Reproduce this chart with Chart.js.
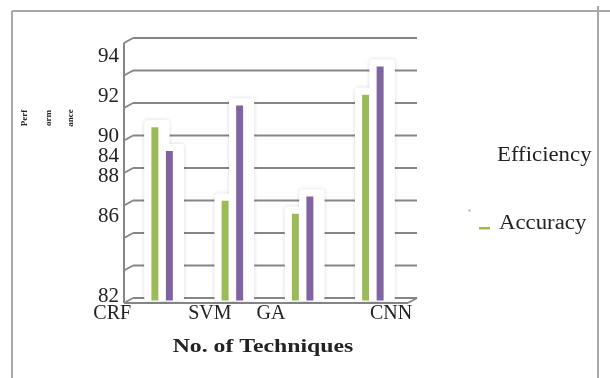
<!DOCTYPE html>
<html>
<head>
<meta charset="utf-8">
<script src="https://cdn.jsdelivr.net/npm/chart.js@4.4.0/dist/chart.umd.min.js"></script>
<style>
  html, body { margin: 0; padding: 0; background: #fff; }
  #wrap { position: relative; width: 610px; height: 378px; }
</style>
</head>
<body>
<div id="wrap"><canvas id="c"></canvas></div>
<script>
// Techniques compared and their scores
const techniques  = ['CRF', 'SVM', 'GA', 'CNN'];
const accuracy    = [90.0, 86.6, 86.0, 91.5];
const efficiency  = [88.9, 91.0, 86.8, 92.8];
const seriesNames = ['Accuracy', 'Efficiency'];

// Printed value-axis labels and the axis values they stand at
const yTickText = ['94', '92', '90', '84', '88', '86', '82'];
const yTickAt   = [94, 92, 90, 89, 88, 86, 82];
// Where each technique caption stands along the category axis
const xTickAt   = [-0.21, 1.18, 2.05, 3.76];

const GRID  = '#868686';
const TEXT  = '#222';
const SERIF = '"Liberation Serif", "Times New Roman", serif';
const GREEN  = '#9BBB59';
const PURPLE = '#8064A2';

const seg = (ctx, x1, y1, x2, y2) => {
  ctx.beginPath(); ctx.moveTo(x1, y1); ctx.lineTo(x2, y2); ctx.stroke();
};

// Back wall, side wall and floor of the 3-D box, plus the white glow round each bar
const box3d = {
  id: 'box3d',
  beforeDatasetsDraw(chart) {
    const { ctx, chartArea: a } = chart;
    const y = chart.scales.y;
    ctx.save();
    ctx.lineWidth = 2;
    ctx.strokeStyle = GRID;
    y.ticks.forEach(t => {
      const py = y.getPixelForValue(t.value);
      seg(ctx, a.left + 6, py - 2.5, a.right + 9, py - 2.5);
      seg(ctx, a.left - 3, py + 2.5, a.left + 6, py - 2.5);
    });
    seg(ctx, a.left - 3, a.top + 2.5, a.left - 3, a.bottom + 2.5);
    seg(ctx, a.left - 3, a.bottom + 2.5, a.right, a.bottom + 2.5);
    seg(ctx, a.right, a.bottom + 2.5, a.right + 9, a.bottom - 2.5);

    const bars = [];
    chart.data.datasets.forEach((d, i) =>
      chart.getDatasetMeta(i).data.forEach(b => bars.push(b)));
    const glow = b => {
      const bottom = Math.min(b.base, a.bottom);
      ctx.beginPath();
      ctx.roundRect(b.x - b.width / 2 - 7, b.y - 7, b.width + 18, bottom - b.y + 7, 3);
      ctx.fill();
    };
    ctx.fillStyle = '#fff';
    ctx.shadowColor = 'rgba(0,0,0,0.16)';
    ctx.shadowBlur = 4;
    bars.forEach(glow);
    ctx.shadowColor = 'transparent';
    bars.forEach(glow);
    ctx.restore();
  }
};

// Page frame, axis titles and the legend
const captions = {
  id: 'captions',
  afterDraw(chart) {
    const { ctx } = chart;
    ctx.save();
    ctx.strokeStyle = '#a8a8a8';
    ctx.lineWidth = 2;
    seg(ctx, 12, 11, 610, 11);
    seg(ctx, 12, 11, 12, 378);
    seg(ctx, 598, 6, 598, 378);

    ctx.fillStyle = TEXT;
    ctx.textBaseline = 'middle';

    // category axis title
    ctx.textAlign = 'center';
    ctx.font = `bold 19px ${SERIF}`;
    ctx.save();
    ctx.translate(263, 347);
    ctx.scale(1.25, 1);
    ctx.fillText('No. of Techniques', 0, 0);
    ctx.restore();

    // value axis title, wrapped into three rotated pieces
    ctx.font = `bold 9px ${SERIF}`;
    [['Perf', 25], ['orm', 49], ['ance', 71]].forEach(([w, x]) => {
      ctx.save();
      ctx.translate(x, 118);
      ctx.rotate(-Math.PI / 2);
      ctx.fillText(w, 0, 0);
      ctx.restore();
    });

    // legend (series listed last-first)
    ctx.textAlign = 'left';
    ctx.font = `20px ${SERIF}`;
    const entries = [
      { text: seriesNames[1], x: 497, y: 156 },
      { text: seriesNames[0], x: 499, y: 224 }
    ];
    entries.forEach(e => {
      ctx.save();
      ctx.translate(e.x, e.y);
      ctx.scale(1.14, 1);
      ctx.fillText(e.text, 0, 0);
      ctx.restore();
    });
    ctx.fillStyle = GREEN;
    ctx.fillRect(479, 227, 11, 2.5);
    ctx.fillStyle = 'rgba(128,100,162,0.6)';
    ctx.fillRect(468.5, 209.5, 2, 2);
    ctx.restore();
  }
};

new Chart(document.getElementById('c'), {
  type: 'bar',
  data: {
    labels: techniques,
    datasets: [
      { label: seriesNames[0], data: accuracy,   backgroundColor: GREEN,  xAxisID: 'x', yAxisID: 'y' },
      { label: seriesNames[1], data: efficiency, backgroundColor: PURPLE, xAxisID: 'x', yAxisID: 'y' }
    ]
  },
  options: {
    responsive: true,
    maintainAspectRatio: false,
    animation: false,
    categoryPercentage: 0.413,
    barPercentage: 0.48,
    layout: { padding: { left: 91, right: 202, top: 40.5, bottom: 47.5 } },
    plugins: { legend: { display: false }, tooltip: { enabled: false } },
    scales: {
      x: { display: false, offset: true },
      xL: {
        type: 'linear', position: 'bottom', min: 0, max: 4, offset: false,
        grid: { display: false, drawTicks: false },
        border: { display: false },
        afterBuildTicks: s => { s.ticks = xTickAt.map(v => ({ value: v })); },
        afterFit: s => { s.height = 30; },
        ticks: {
          autoSkip: false, maxRotation: 0, padding: 1, color: TEXT,
          font: { family: SERIF, size: 20 },
          callback: (v, i) => techniques[i]
        }
      },
      y: { display: false, min: 82, max: 94, ticks: { stepSize: 1.5 } },
      yL: {
        type: 'linear', position: 'left', min: 81.8, max: 94.8, offset: false,
        grid: { display: false, drawTicks: false },
        border: { display: false },
        afterBuildTicks: s => { s.ticks = yTickAt.map(v => ({ value: v })); },
        afterFit: s => { s.width = 36; },
        ticks: {
          autoSkip: false, padding: 8, color: TEXT,
          font: { family: SERIF, size: 21 },
          callback: (v, i) => yTickText[i]
        }
      }
    }
  },
  plugins: [box3d, captions]
});
</script>
</body>
</html>
